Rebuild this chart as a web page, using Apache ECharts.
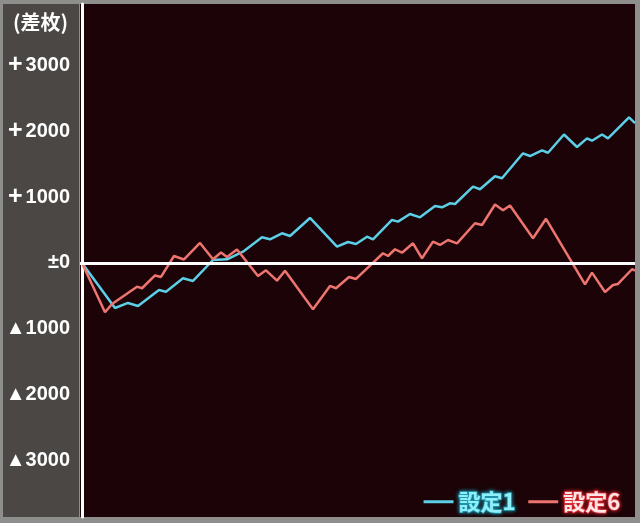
<!DOCTYPE html>
<html>
<head>
<meta charset="utf-8">
<script src="https://cdn.jsdelivr.net/npm/echarts@6/dist/echarts.min.js"></script>
<style>
html,body{margin:0;padding:0;background:#8e8e8c;}
#chart{width:640px;height:523px;}
</style>
</head>
<body>
<div id="chart"></div>
<script>
// x positions (relative play progress units) and 差枚 values
const blueX = [0,33,46,56,77,84,101,111,131,145,161,180,188,200,208,228,255,266,274,285,291,310,316,328,338,353,360,368,373,391,398,413,420,441,448,460,466,482,495,505,510,520,526,547,553];
const blueY = [0,-682,-606,-652,-409,-435,-232,-273,45,56,171,389,359,450,409,682,247,318,288,398,359,652,626,742,692,864,844,905,894,1156,1117,1314,1283,1662,1621,1707,1671,1947,1758,1889,1853,1947,1889,2208,2121];
const redX = [0,23,30,55,60,73,79,92,102,118,131,139,145,155,176,184,195,203,231,248,254,267,274,301,306,313,320,331,340,351,358,366,375,393,400,413,421,428,451,464,503,510,523,531,536,550,553];
const redY = [0,-747,-621,-359,-383,-189,-212,106,53,303,56,159,91,205,-197,-111,-268,-117,-702,-348,-383,-212,-242,147,106,208,156,298,71,323,273,348,298,602,576,886,798,871,374,670,-326,-147,-439,-333,-318,-95,-117];
const yTicks = [-3000,-2000,-1000,0,1000,2000,3000];
const seriesNames = ['設定1','設定6'];
const axisTitle = '(差枚)';

function pairs(xs, ys){ return xs.map((x,i)=>[x, ys[i]]); }
function fmt(v){
  if (v > 0) return '{p|+}{n|' + v + '}';
  if (v === 0) return '{n|±0}';
  return '{n|▲' + (-v) + '}';
}

const chart = echarts.init(document.getElementById('chart'));
chart.setOption({
  backgroundColor: '#8e8e8c',
  animation: false,
  grid: {
    left: 80, top: 4, width: 555, height: 513,
    show: true, backgroundColor: '#1b0307', borderWidth: 0
  },
  xAxis: {
    type: 'value', min: -2, max: 553, show: false
  },
  yAxis: {
    type: 'value', min: -3850, max: 3925,
    axisLine: { show: true, lineStyle: { color: '#ffffff', width: 3 } },
    axisTick: { show: false },
    splitLine: { show: false },
    axisLabel: {
      customValues: yTicks,
      formatter: fmt,
      color: '#ffffff',
      fontSize: 20,
      fontWeight: 'bold',
      fontFamily: 'Liberation Sans, Arial, sans-serif',
      margin: 10,
      rich: {
        p: { fontSize: 25, fontWeight: 'bold', color: '#ffffff', fontFamily: 'Liberation Sans, Arial, sans-serif', padding: [0, 3, 0, 0] },
        n: { fontSize: 20, fontWeight: 'bold', color: '#ffffff', fontFamily: 'Liberation Sans, Arial, sans-serif' }
      }
    }
  },
  legend: {
    right: 14, top: 485,
    icon: 'rect', itemWidth: 30, itemHeight: 3, itemGap: 12,
    selectedMode: false,
    textStyle: {
      fontSize: 22, fontWeight: 'bold',
      fontFamily: 'Noto Sans CJK JP, sans-serif',
      textBorderWidth: 1.5,
      textShadowBlur: 4
    },
    data: [
      { name: seriesNames[0], textStyle: { color: '#8ef0fb', textBorderColor: '#25a6bd', textShadowColor: '#1f8fa5' } },
      { name: seriesNames[1], textStyle: { color: '#ffe6e6', textBorderColor: '#e8424a', textShadowColor: '#d0222a' } }
    ]
  },
  graphic: {
    elements: [
      { type: 'rect', left: 3, top: 4, shape: { width: 76, height: 513 }, style: { fill: '#4a4745' }, z: -10 },
      { type: 'text', left: 13, top: 12, style: { text: axisTitle, fill: '#ffffff', font: 'bold 20px "Noto Sans CJK JP", sans-serif' }, z: 100 }
    ]
  },
  series: [
    {
      name: seriesNames[0], type: 'line', data: pairs(blueX, blueY),
      showSymbol: false, symbol: 'none',
      lineStyle: { color: '#5ccfe6', width: 2.5 },
      itemStyle: { color: '#5ccfe6' },
      markLine: {
        silent: true, symbol: ['none','none'],
        label: { show: false },
        lineStyle: { color: '#ffffff', width: 3, type: 'solid' },
        data: [{ yAxis: 0 }]
      }
    },
    {
      name: seriesNames[1], type: 'line', data: pairs(redX, redY),
      showSymbol: false, symbol: 'none',
      lineStyle: { color: '#ee7470', width: 2.5 },
      itemStyle: { color: '#ee7470' }
    }
  ]
});
</script>
</body>
</html>
